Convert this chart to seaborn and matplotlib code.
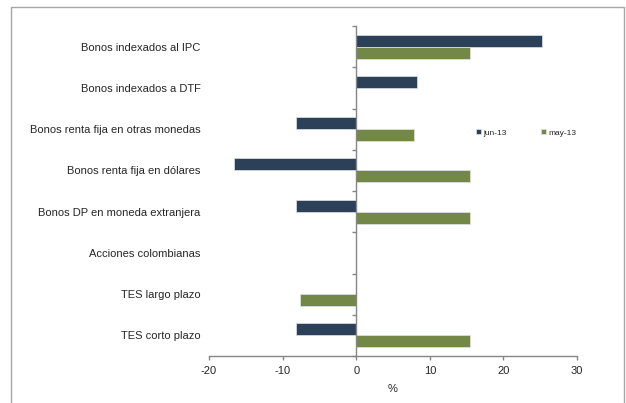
import numpy as np
import pandas as pd
import matplotlib
matplotlib.use("Agg")
import matplotlib.pyplot as plt
from matplotlib.patches import Rectangle
import seaborn as sns

categories = [
    "Bonos indexados al IPC",
    "Bonos indexados a DTF",
    "Bonos renta fija en otras monedas",
    "Bonos renta fija en dólares",
    "Bonos DP en moneda extranjera",
    "Acciones colombianas",
    "TES largo plazo",
    "TES corto plazo",
]
jun_13 = [25.2, 8.3, -8.2, -16.6, -8.2, 0.0, 0.0, -8.2]
may_13 = [15.5, 0.0, 7.8, 15.5, 15.5, 0.0, -7.7, 15.5]
series_names = ["jun-13", "may-13"]
x_ticks = [-20, -10, 0, 10, 20, 30]

df = pd.DataFrame({"categoria": categories, "jun-13": jun_13, "may-13": may_13})
long_df = df.melt(id_vars="categoria", var_name="serie", value_name="valor")

sns.set_style("white")
plt.rcParams["font.family"] = ["Liberation Sans", "DejaVu Sans"]

fig = plt.figure(figsize=(6.26, 4.03), dpi=100)
ax = fig.add_axes([209 / 626, 1 - 356 / 403, 368 / 626, 330 / 403])

palette = {"jun-13": "#243F60", "may-13": "#77933C"}
sns.barplot(data=long_df, y="categoria", x="valor", hue="serie",
            hue_order=series_names, order=categories, palette=palette,
            orient="h", width=0.58, gap=0, edgecolor="#dfe3ea",
            linewidth=0.5, ax=ax)

ax.set_xlim(-20, 30)
ax.set_ylim(7.5, -0.5)
ax.set_xticks(x_ticks)
ax.set_xticklabels([str(t) for t in x_ticks])
ax.set_xlabel("%", fontsize=8, labelpad=6)
ax.set_ylabel("")

for s in ["top", "right", "left"]:
    ax.spines[s].set_visible(False)
ax.spines["bottom"].set_color("#868686")
ax.spines["bottom"].set_linewidth(1)
ax.tick_params(axis="x", direction="out", length=3, width=1, color="#868686",
               labelsize=8, pad=4, bottom=True)
ax.tick_params(axis="y", length=0, labelsize=8, pad=6)

# vertical axis at zero with tick marks between categories
sec = ax.secondary_yaxis(0.4)
sec.set_yticks(np.arange(-0.5, len(categories), 1))
sec.set_yticklabels([])
sec.spines["left"].set_color("#868686")
sec.spines["left"].set_linewidth(1)
sec.tick_params(axis="y", direction="out", length=3, width=1, color="#868686")
sec.set_zorder(5)

leg = ax.legend(loc="center left", bbox_to_anchor=(0.715, 0.676), ncol=2,
                frameon=False, fontsize=6, handlelength=0.6, handleheight=0.6,
                handletextpad=0.2, columnspacing=4.2, borderpad=0)

fig.add_artist(Rectangle((11 / 626, -0.1), 613 / 626, 1 - 7 / 403 + 0.1,
                         transform=fig.transFigure, fill=False,
                         edgecolor="#a6a6a6", linewidth=1, clip_on=False))

fig.savefig("out.png", dpi=100)
